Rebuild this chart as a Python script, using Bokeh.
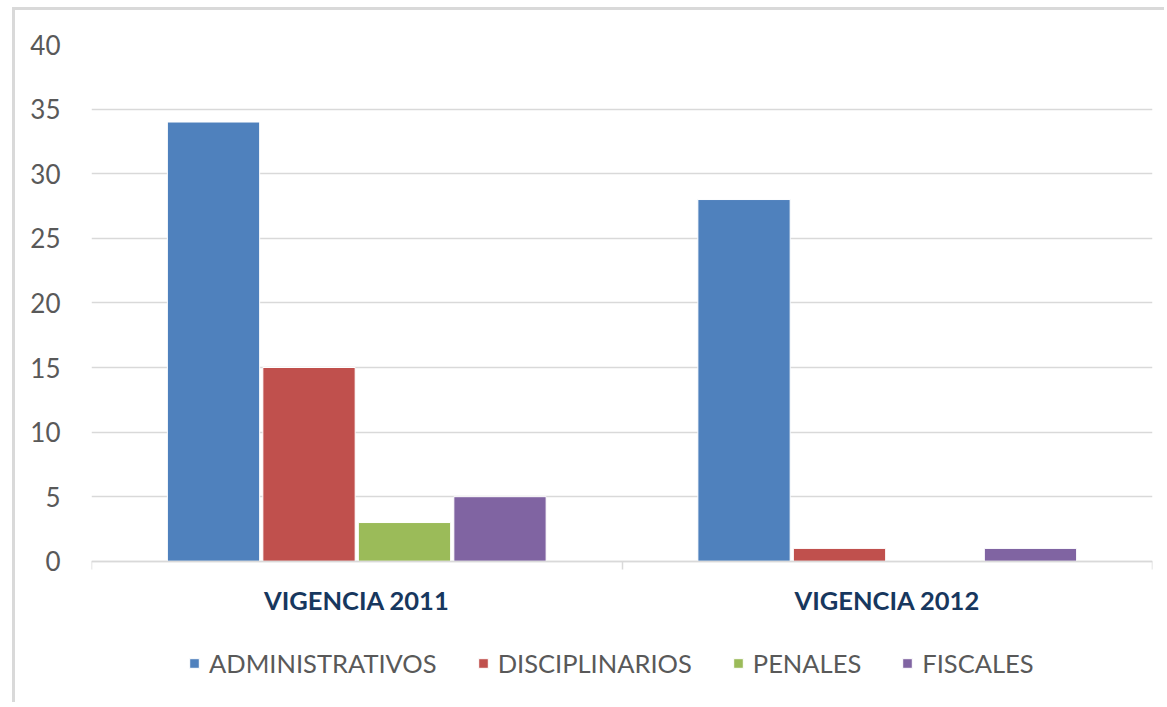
from bokeh.plotting import figure
from bokeh.models import (ColumnDataSource, Range1d, LinearAxis, CategoricalAxis,
                          FixedTicker, Legend, LegendItem)
from bokeh.transform import dodge
from bokeh.embed import file_html
from bokeh.resources import INLINE

# ---- data ----
categories = ["VIGENCIA 2011", "VIGENCIA 2012"]
series_names = ["ADMINISTRATIVOS", "DISCIPLINARIOS", "PENALES", "FISCALES"]
administrativos = [34, 28]
disciplinarios = [15, 1]
penales = [3, 0]
fiscales = [5, 1]
colors = ["#4F81BD", "#C0504D", "#9BBB59", "#8064A2"]
y_ticks = [0, 5, 10, 15, 20, 25, 30, 35, 40]

source = ColumnDataSource(dict(cat=categories, adm=administrativos, dis=disciplinarios,
                               pen=penales, fis=fiscales))

FONT = "Lato"
# the frame extends below zero to leave room for the axis labels and legend
p = figure(width=1152, height=695, x_range=categories, y_range=Range1d(-10, 40),
           output_backend="svg", toolbar_location=None, x_axis_location=None,
           min_border_left=76, min_border_right=15, min_border_top=34, min_border_bottom=15)
p.outline_line_color = None
p.background_fill_color = "white"
p.border_fill_color = "white"

cols = ["adm", "dis", "pen", "fis"]
offsets = [-0.27, -0.09, 0.09, 0.27]
renderers = []
for c, off, col in zip(cols, offsets, colors):
    r = p.vbar(x=dodge("cat", off, range=p.x_range), top=c, bottom=0, width=0.174, source=source,
               fill_color=col, line_color="white", line_width=1)
    renderers.append(r)

# y axis
p.yaxis.ticker = FixedTicker(ticks=y_ticks)
p.yaxis.axis_line_color = None
p.yaxis.major_tick_line_color = None
p.yaxis.minor_tick_line_color = None
p.yaxis.major_label_text_font = FONT
p.yaxis.major_label_text_font_size = "26px"
p.yaxis.major_label_text_color = "#595959"
p.yaxis.major_label_standoff = 25

p.ygrid.ticker = FixedTicker(ticks=y_ticks)
p.ygrid.grid_line_color = "#d9d9d9"
p.ygrid.grid_line_width = 1.5
p.xgrid.grid_line_color = None

# category axis line with separator ticks at category boundaries
sep_ticks = list(range(len(categories) + 1))
sep_axis = LinearAxis(ticker=FixedTicker(ticks=sep_ticks), fixed_location=0)
sep_axis.axis_line_color = "#d9d9d9"
sep_axis.axis_line_width = 1.5
sep_axis.major_tick_line_color = "#d9d9d9"
sep_axis.major_tick_line_width = 1.5
sep_axis.major_tick_in = 0
sep_axis.major_tick_out = 8
sep_axis.minor_tick_line_color = None
sep_axis.major_label_overrides = {t: "" for t in sep_ticks}
p.add_layout(sep_axis, "below")

cat_axis = CategoricalAxis(fixed_location=0)
cat_axis.axis_line_color = None
cat_axis.major_tick_line_color = None
cat_axis.minor_tick_line_color = None
cat_axis.major_label_text_font = FONT
cat_axis.major_label_text_font_style = "bold"
cat_axis.major_label_text_font_size = "25.5px"
cat_axis.major_label_text_color = "#17375E"
cat_axis.major_label_standoff = 18
p.add_layout(cat_axis, "below")

legend = Legend(items=[LegendItem(label=n, renderers=[r]) for n, r in zip(series_names, renderers)],
                orientation="horizontal", location=(97, 12))
legend.label_text_font = FONT
legend.label_text_font_size = "25.5px"
legend.label_text_color = "#595959"
legend.glyph_width = 12
legend.glyph_height = 12
legend.label_standoff = 9
legend.spacing = 40
legend.border_line_color = None
legend.background_fill_alpha = 0
legend.margin = 0
legend.padding = 5
p.add_layout(legend, "center")

p.styles = {"border-left": "3px solid #d9d9d9", "border-top": "3px solid #d9d9d9",
            "margin-left": "12px", "margin-top": "7px"}

open("out.html", "w").write(file_html(p, INLINE))
